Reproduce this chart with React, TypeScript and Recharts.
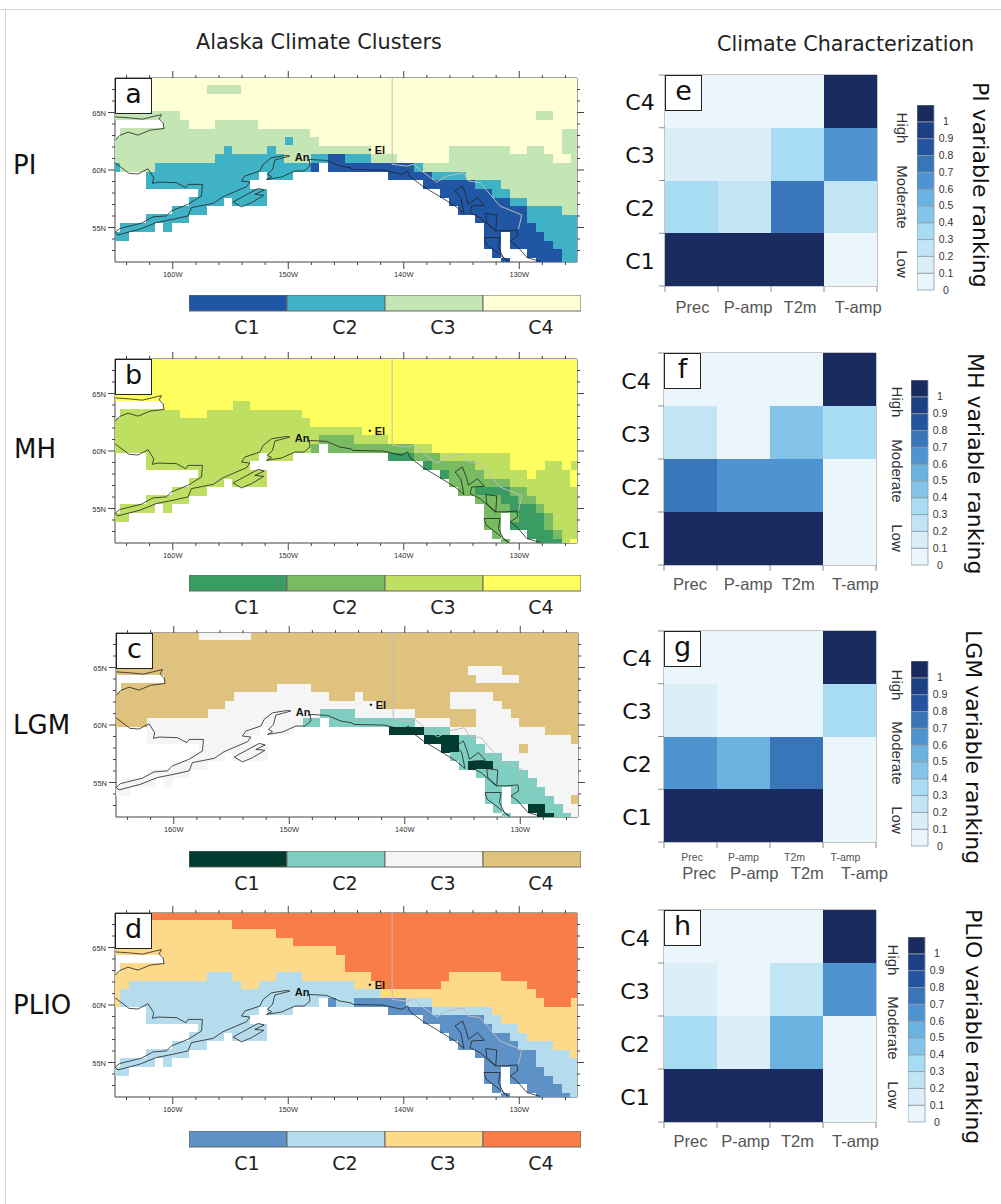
import {
  Bar,
  BarChart,
  Cell,
  ReferenceDot,
  Scatter,
  ScatterChart,
  XAxis,
  YAxis,
} from "recharts";

const SANS = "'DejaVu Sans', sans-serif";
const HELV = "'Liberation Sans', Arial, sans-serif";

// cluster grid, one string per model row, "code:firstCol-lastCol", later runs overwrite earlier ones
const PI_ROWS = [
  "4:0-53",
  "4:0-53 3:11-14",
  "4:0-53",
  "4:0-53",
  "4:0-53 3:0-7 3:49-50",
  "4:9-53 3:6-8 3:12-16",
  "3:1-22 4:23-51 3:52-53",
  "3:0-23 2:20 4:24-51 3:52-53",
  "3:0-29 2:13 2:18 4:30-38 3:39-45 4:46-47 3:48-49 4:50-51 3:52-53",
  "3:0-11 2:12-19 3:20-22 2:23-24 1:25-26 2:27-29 3:30-32 4:33-38 3:39-50 4:51-52 3:53",
  "2:0 3:1-4 2:5-22 1:23 1:25-34 2:35 3:36-53",
  "2:4-16 2:18-20 1:32-36 2:37-40 3:41-53",
  "2:4-15 1:36-41 2:42-44 3:45-53",
  "2:10-17 1:38-43 2:44-45 3:46-53",
  "2:9-12 2:14-17 1:39-45 2:46-47 3:48-53",
  "2:7-10 1:40-47 2:48-51 3:52-53",
  "2:4-8 1:42-47 2:48-53",
  "2:1-4 2:6 1:43-48 2:49-53",
  "2:0-1 1:43-44 1:46-49 2:50-53",
  "1:43-44 1:46-50 2:51-53",
  "1:44 1:48-51 2:52-53",
  "1:45 1:49-51 2:52-53",
];
const MH_ROWS = [
  "4:0-53",
  "4:0-53",
  "4:0-53",
  "4:0-53",
  "4:0-53",
  "4:6-53 3:14-15",
  "3:1-7 4:8-10 3:11-21 4:22-53",
  "3:0-22 4:23-53",
  "3:0-28 4:29-53",
  "3:0-23 2:24-27 3:28-31 4:32-53",
  "3:0-22 2:23 2:25-34 3:35-36 4:37-53",
  "3:4-16 3:18-20 1:32-34 2:35-37 3:38-45 4:46-53",
  "3:4-15 1:36 2:37-41 3:42-45 4:46-49 3:50-51 4:52 3:53",
  "3:10-17 1:38 2:39-42 3:43-47 4:48 3:49-52 4:53",
  "3:9-12 3:14-17 2:39-45 3:46-52 4:53",
  "3:7-10 2:40-41 1:42-45 2:46-47 3:48-53",
  "3:4-8 2:42-44 1:45-46 2:47-48 3:49-53",
  "3:1-4 3:6 2:43-45 1:46-48 2:49 3:50-53",
  "3:0-1 2:43-44 2:46 1:47-49 2:50 3:51-53",
  "2:43-44 1:46-49 2:50 3:51-53",
  "2:44 1:48-50 2:51 3:52-53",
  "2:45 1:49-51 3:52 4:53",
];
const LGM_ROWS = [
  "4:0-53 3:10-15",
  "4:0-53",
  "4:0-53",
  "4:0-53",
  "4:0-53 3:41-44",
  "4:6-53 3:42-46",
  "4:1-18 3:19-22 4:23-53",
  "4:0-13 3:14-24 4:25-53 3:28 3:39-43",
  "4:0-12 3:13-30 4:31-38 3:39-44 4:45-53",
  "4:0-10 3:11-23 2:24-27 3:28-34 4:35-41 3:42-45 4:46-53",
  "4:0-3 3:4-21 2:22-23 2:25-34 3:35-38 4:39-41 3:42-46 4:47-53",
  "3:4-16 3:18-20 1:32-35 2:36-38 3:39-49 4:50-53",
  "3:4-15 1:36-39 2:40-41 3:42-52 4:53",
  "3:10-17 1:38-39 2:40-42 3:43-53 4:47",
  "3:9-12 3:14-17 2:39-44 3:45-53",
  "3:7-10 2:40 1:41-43 2:44-46 3:47-53",
  "3:4-8 2:42-47 3:48-53",
  "3:1-4 3:6 2:43-48 3:49-53",
  "3:0-1 2:43-44 2:46-49 3:50-53",
  "2:43-44 2:46-50 3:51-52 4:53",
  "2:44 1:48-49 2:50-51 3:52-53",
  "2:45 1:49-50 2:51-52 3:53",
];
const PLIO_ROWS = [
  "4:0-53",
  "3:0-13 4:14-53",
  "3:0-18 4:19-53",
  "3:0-20 4:21-53",
  "3:0-25 4:26-53",
  "3:6-26 4:27-53",
  "3:1-26 4:27-53",
  "3:0-10 2:11-13 3:14-18 2:19-21 3:22-29 4:30-38 3:39-44 4:45-53",
  "3:0-1 2:2-14 3:15-16 2:17-27 3:28-30 4:31-37 3:38-47 4:48-53",
  "3:0 2:1-30 3:31-48 4:49-53",
  "3:0 2:1-23 1:25 2:26-27 1:28-33 2:34-36 3:37-49 4:50-52 3:53",
  "2:4-16 2:18-20 1:32-36 2:37-43 3:44-53",
  "2:4-15 1:36-42 2:43-44 3:45-53",
  "2:10-17 1:38-43 2:44-46 3:47-53",
  "2:9-12 2:14-17 1:39-45 2:46-47 3:48-53",
  "2:7-10 1:40-46 2:47-50 3:51-53",
  "2:4-8 1:42-48 2:49-52 3:53",
  "2:1-4 2:6 1:43-48 2:49-53",
  "2:0-1 1:43-44 1:46-49 2:50-53",
  "1:43-44 1:46-50 2:51-53",
  "1:44 1:48-51 2:52-53",
  "1:45 1:49-52 2:53",
];

const CLUSTERS = ["C1", "C2", "C3", "C4"];
const PI_COLORS = ["#2056a4", "#3fb3c5", "#c4e6b5", "#feffd4"];
const MH_COLORS = ["#3a9b63", "#79bb62", "#bedf62", "#fefe5e"];
const LGM_COLORS = ["#003c30", "#80cdc1", "#f5f5f5", "#dfc27d"];
const PLIO_COLORS = ["#5e92c6", "#b5dcec", "#fdd98a", "#f97d48"];

// coastlines and the border, [lon, lat]
const NORTH_COAST = [
  [-165, 64.62], [-163.73, 64.53], [-162.63, 64.42], [-160.98, 64.82], [-161.18, 64.45],
  [-160.84, 64.1], [-160.75, 63.61], [-161.99, 63.46], [-163.01, 63.03], [-163.87, 63.29],
  [-164.6, 63.0], [-165, 62.57],
];
const SOUTH_COAST = [
  [-165, 60.63], [-163.79, 59.71], [-163.01, 59.65], [-162.14, 60.11], [-161.65, 59.33],
  [-161.76, 58.84], [-161.27, 58.95], [-159.68, 58.9], [-158.87, 58.46], [-158.67, 58.75],
  [-157.43, 58.75], [-157.51, 57.74], [-158.67, 57.02], [-160.12, 56.44], [-160.55, 56.01],
  [-161.71, 55.92], [-162.72, 55.37], [-164.6, 54.91], [-165, 54.56], [-164.74, 54.36],
  [-162.86, 54.85], [-161.42, 55.43], [-159.97, 55.72], [-158.67, 56.01], [-158.38, 56.73],
  [-156.5, 57.1], [-155.64, 57.68], [-153.61, 58.55], [-153.32, 58.95], [-154.05, 59.04],
  [-153.76, 59.47], [-152.46, 59.91], [-152.17, 60.49], [-151.45, 61.06], [-150.14, 61.27],
  [-149.86, 61.21], [-150.43, 61.06], [-151.16, 60.86], [-151.36, 60.05], [-151.79, 59.62],
  [-151.45, 59.42], [-151.88, 59.18], [-150.58, 59.39], [-149.42, 59.91], [-148.64, 59.91],
  [-148.12, 60.34], [-148.18, 60.92], [-146.68, 60.83], [-145.52, 60.34], [-144.65, 60.2],
  [-144.37, 60.05], [-141.77, 59.99], [-140.18, 59.62], [-139.66, 59.91], [-139.46, 59.42],
  [-138.3, 58.55], [-136.86, 57.68], [-135.56, 56.87], [-134.78, 56.21], [-135.07, 57.6],
  [-135.56, 58.17], [-134.92, 58.61], [-134.61, 57.8], [-134.4, 57.02], [-133.62, 57.6],
  [-133.02, 56.93], [-134.11, 56.87], [-134.26, 56.29], [-133.39, 55.86], [-132.09, 54.71],
  [-131.22, 54.71], [-130.21, 54.79], [-130.13, 54.27], [-130.79, 53.84], [-130.21, 53.4],
  [-129.34, 52.39], [-128.19, 52.05],
];
const KODIAK = [
  [-154.77, 57.22], [-152.6, 58.4], [-152.08, 58.26], [-152.89, 57.88], [-152.11, 57.8],
  [-153.18, 57.16], [-154.05, 56.79], [-154.77, 57.22],
];
const ISLAND_ONE = [[-132.9, 56.21], [-131.95, 56.09], [-132.03, 54.71], [-132.81, 55.43], [-132.9, 56.21]];
const ISLAND_TWO = [
  [-133.04, 54.13], [-131.66, 54.13], [-131.8, 53.26], [-131.37, 52.39], [-130.93, 52.05],
  [-132.29, 53.12], [-132.87, 53.55], [-133.04, 54.13],
];
const BORDER = [
  [-141, 68], [-141, 60.49], [-139.75, 60.34], [-139.11, 60.49], [-138.45, 59.91], [-137.15, 58.95],
  [-136.28, 59.47], [-134.84, 59.76], [-134.4, 59.04], [-133.39, 58.9], [-131.66, 56.87],
  [-129.78, 56.09], [-130.07, 54.85],
];
const COASTS = [NORTH_COAST, SOUTH_COAST, KODIAK, ISLAND_ONE, ISLAND_TWO];

const LON_TICKS = [-164, -162, -160, -158, -156, -154, -152, -150, -148, -146, -144, -142, -140, -138, -136, -134, -132, -130, -128, -126];
const LAT_TICKS = [53, 54, 55, 56, 57, 58, 59, 60, 61, 62, 63, 64, 65, 66, 67];

// variable ranking per cluster, rows C1..C4, columns as VARIABLES
const VARIABLES = ["Prec", "P-amp", "T2m", "T-amp"];
const PI_RANK = [[1, 1, 1, 0.05], [0.35, 0.25, 0.75, 0.25], [0.15, 0.15, 0.35, 0.65], [0.05, 0.05, 0.05, 1]];
const MH_RANK = [[1, 1, 1, 0.05], [0.75, 0.65, 0.65, 0.05], [0.25, 0.05, 0.45, 0.35], [0.05, 0.05, 0.05, 1]];
const LGM_RANK = [[1, 1, 1, 0.05], [0.65, 0.55, 0.75, 0.05], [0.15, 0.05, 0.05, 0.35], [0.05, 0.05, 0.05, 1]];
const PLIO_RANK = [[1, 1, 1, 0.05], [0.35, 0.15, 0.55, 0.05], [0.15, 0.05, 0.25, 0.65], [0.05, 0.05, 0.05, 1]];

const RANK_COLORS = ["#eaf6fb", "#dbeef8", "#c1e5f5", "#a8dcf3", "#85c4ea", "#6ab2e0", "#4d94d0", "#3876b9", "#24549f", "#1d3f83", "#1a2b5f"];
const RANK_TICKS = [0, 0.1, 0.2, 0.3, 0.4, 0.5, 0.6, 0.7, 0.8, 0.9, 1];

const CELL_DEG = 0.75;
const FIRST_LON = -164.963; // column 0 is cut by the frame
const SECOND_LON = -164.213;
const TOP_LAT = 67.76;
const CELL_PX = 8.65;

function buildCells(rows: string[]) {
  const byCluster: { lon: number; lat: number }[][] = [[], [], [], []];
  rows.forEach((spec, r) => {
    const grid = new Array(54).fill(0);
    spec.split(" ").forEach((run) => {
      const [code, range] = run.split(":");
      const [from, to] = range.split("-").map(Number);
      for (let c = from; c <= (to ?? from); c++) grid[c] = Number(code);
    });
    grid.forEach((code, c) => {
      if (!code) return;
      const lon = c === 0 ? FIRST_LON : SECOND_LON + CELL_DEG * (c - 1);
      byCluster[code - 1].push({ lon, lat: TOP_LAT - CELL_DEG * r });
    });
  });
  return byCluster;
}

const points = (line: number[][]) => line.map(([lon, lat]) => ({ lon, lat }));
const noDot = () => <g />;

const mapCell = (fill: string) => (p: any) => (
  <rect
    x={p.cx - CELL_PX / 2}
    y={p.cy - CELL_PX / 2}
    width={CELL_PX + 0.3}
    height={CELL_PX + 0.3}
    fill={fill}
    shapeRendering="crispEdges"
  />
);

const lonTick = (side: string) => (p: any) => {
  const v = p.payload.value;
  const major = v % 10 === 0;
  const dir = side === "top" ? -1 : 1;
  return (
    <g>
      <line x1={p.x} x2={p.x} y1={p.y} y2={p.y + dir * (major ? 7 : 3)} stroke="#444" />
      {side === "bottom" && major && (
        <text x={p.x} y={p.y + 15} textAnchor="middle" fontSize={7.5} fontFamily={HELV} fill="#333">
          {-v}W
        </text>
      )}
    </g>
  );
};

const latTick = (side: string) => (p: any) => {
  const v = p.payload.value;
  const major = v % 5 === 0;
  const dir = side === "left" ? -1 : 1;
  return (
    <g>
      <line x1={p.x} x2={p.x + dir * (major ? 7 : 3)} y1={p.y} y2={p.y} stroke="#444" />
      {side === "left" && major && (
        <text x={p.x - 9} y={p.y + 3} textAnchor="end" fontSize={7.5} fontFamily={HELV} fill="#333">
          {v}N
        </text>
      )}
    </g>
  );
};

function ClimateMap({ rows, colors, left, top, letter }: any) {
  const cells = buildCells(rows);
  return (
    <div style={{ position: "absolute", left: left - 40, top: top - 12 }}>
      <ScatterChart width={514} height={218} margin={{ top: 0, right: 0, bottom: 0, left: 0 }}>
        <XAxis type="number" dataKey="lon" domain={[-165, -125]} ticks={LON_TICKS} interval={0} allowDataOverflow
          height={22} tickSize={0} tickMargin={0} tick={lonTick("bottom")} stroke="#444" />
        <XAxis type="number" xAxisId="top" orientation="top" dataKey="lon" domain={[-165, -125]} ticks={LON_TICKS} interval={0}
          allowDataOverflow height={12} tickSize={0} tickMargin={0} tick={lonTick("top")} stroke="#444" />
        <YAxis type="number" dataKey="lat" domain={[52, 68]} ticks={LAT_TICKS} interval={0} allowDataOverflow
          width={40} tickSize={0} tickMargin={0} tick={latTick("left")} stroke="#444" />
        <YAxis type="number" yAxisId="right" orientation="right" dataKey="lat" domain={[52, 68]} ticks={LAT_TICKS} interval={0}
          allowDataOverflow width={12} tickSize={0} tickMargin={0} tick={latTick("right")} stroke="#444" />
        {cells.map((data, i) => (
          <Scatter key={i} data={data} fill={colors[i]} shape={mapCell(colors[i])} isAnimationActive={false} />
        ))}
        <Scatter data={points(BORDER)} fill="#bbbbbb" line={{ stroke: "#bdbdbd", strokeWidth: 1 }} shape={noDot} isAnimationActive={false} />
        {COASTS.map((line, i) => (
          <Scatter key={i} data={points(line)} fill="#222" line={{ stroke: "#222", strokeWidth: 0.8 }} shape={noDot} isAnimationActive={false} />
        ))}
        <ReferenceDot x={-149.86} y={61.15} r={0} stroke="none" fill="none"
          label={{ value: "An", position: "right", offset: 5, fontSize: 11, fontWeight: 700, fill: "#111", fontFamily: HELV }} />
        <ReferenceDot x={-142.93} y={61.76} r={0.8} stroke="#111" fill="#111"
          label={{ value: "El", position: "right", offset: 4, fontSize: 11, fontWeight: 700, fill: "#111", fontFamily: HELV }} />
      </ScatterChart>
      <LetterBox letter={letter} left={40} top={12} />
    </div>
  );
}

function LetterBox({ letter, left, top }: any) {
  return (
    <div
      style={{
        position: "absolute",
        left,
        top,
        width: 35,
        height: 34,
        background: "#fff",
        border: "1px solid #222",
        fontFamily: SANS,
        fontSize: 27,
        lineHeight: "30px",
        textAlign: "center",
        color: "#111",
      }}
    >
      {letter}
    </div>
  );
}

function ClusterBar({ colors, top }: any) {
  const data = CLUSTERS.map((name) => ({ name, v: 1 }));
  return (
    <div style={{ position: "absolute", left: 189, top }}>
      <BarChart width={392} height={46} data={data} margin={{ top: 0, right: 0, bottom: 0, left: 0 }} barCategoryGap={0}>
        <XAxis dataKey="name" axisLine={false} tickLine={false} height={30} tickMargin={0} tickSize={0} interval={0}
          tick={(p: any) => (
            <text x={p.x + 9} y={p.y + 23} textAnchor="middle" fontSize={19} fontFamily={SANS} fill="#222">
              {p.payload.value}
            </text>
          )} />
        <YAxis hide domain={[0, 1]} />
        <Bar dataKey="v" stroke="#666" strokeWidth={1} isAnimationActive={false}>
          {colors.map((c: string, i: number) => (
            <Cell key={i} fill={c} />
          ))}
        </Bar>
      </BarChart>
    </div>
  );
}

function RankGrid({ rank, panel }: any) {
  const w = panel.right - panel.left;
  const h = panel.bottom - panel.top;
  const data = rank.flatMap((row: number[], r: number) =>
    row.map((v, c) => ({ x: c + 0.5, y: r + 0.5, fill: RANK_COLORS[Math.min(10, Math.floor(v * 10))] }))
  );
  const gridTicks = [0, 0.5, 1, 1.5, 2, 2.5, 3, 3.5, 4];
  const lineTicks = [0, 1, 2, 3, 4];
  const gray = "#8c8c8c";
  return (
    <div style={{ position: "absolute", left: panel.left - 50, top: panel.top - 8 }}>
      <ScatterChart width={w + 88} height={h + 48} margin={{ top: 0, right: 30, bottom: 0, left: 0 }}>
        <XAxis type="number" dataKey="x" domain={[0, 4]} ticks={gridTicks} interval={0} height={40} tickSize={0} tickMargin={0}
          stroke={gray}
          tick={(p: any) => {
            const v = p.payload.value;
            if (Number.isInteger(v)) return <line x1={p.x} x2={p.x} y1={p.y} y2={p.y + 6} stroke={gray} />;
            const i = Math.floor(v);
            return (
              <g>
                {panel.smallShift && (
                  <text x={p.x + panel.smallShift[i]} y={p.y + 19} textAnchor="middle" fontSize={10.5} fontFamily={HELV} fill="#555">
                    {VARIABLES[i]}
                  </text>
                )}
                <text x={p.x + panel.shift[i]} y={p.y + panel.labelY} textAnchor="middle" fontSize={16.5} fontFamily={HELV} fill="#555">
                  {VARIABLES[i]}
                </text>
              </g>
            );
          }} />
        <XAxis type="number" xAxisId="top" orientation="top" dataKey="x" domain={[0, 4]} ticks={lineTicks} interval={0} height={8}
          tickSize={0} tickMargin={0} stroke={gray}
          tick={(p: any) => <line x1={p.x} x2={p.x} y1={p.y} y2={p.y - 6} stroke={gray} />} />
        <YAxis type="number" dataKey="y" domain={[0, 4]} ticks={gridTicks} interval={0} width={50} tickSize={0} tickMargin={0}
          stroke={gray}
          tick={(p: any) => {
            const v = p.payload.value;
            if (Number.isInteger(v)) return <line x1={p.x} x2={p.x - 6} y1={p.y} y2={p.y} stroke={gray} />;
            return (
              <text x={p.x - panel.clusterDx} y={p.y + 9} textAnchor="middle" fontSize={22} fontFamily={SANS} fill="#111">
                {CLUSTERS[Math.floor(v)]}
              </text>
            );
          }} />
        <YAxis type="number" yAxisId="right" orientation="right" dataKey="y" domain={[0, 4]} ticks={lineTicks} interval={0} width={8}
          tickSize={0} tickMargin={0} stroke={gray}
          tick={(p: any) => <line x1={p.x} x2={p.x + 6} y1={p.y} y2={p.y} stroke={gray} />} />
        <Scatter data={data} isAnimationActive={false}
          shape={(p: any) => (
            <rect x={p.cx - w / 8} y={p.cy - h / 8} width={w / 4} height={h / 4} fill={p.payload.fill} shapeRendering="crispEdges" />
          )} />
      </ScatterChart>
      <LetterBox letter={panel.letter} left={50} top={8} />
    </div>
  );
}

function RankColorbar({ panel }: any) {
  const row: Record<string, number> = {};
  RANK_COLORS.forEach((_, i) => {
    row[`l${i}`] = 0.1;
  });
  return (
    <div style={{ position: "absolute", left: panel.barLeft, top: panel.barTop }}>
      <BarChart width={47} height={panel.barH + 10} data={[row]} margin={{ top: 0, right: 0, bottom: 10, left: 0 }} barCategoryGap={0}>
        <XAxis hide />
        <YAxis type="number" orientation="right" domain={[0, 1.1]} ticks={RANK_TICKS} interval={0} width={30} axisLine={false}
          tickLine={false} tickSize={0} tickMargin={0}
          tick={(p: any) => (
            <text x={p.x + 12} y={p.y + 3.5} textAnchor="middle" fontSize={10.5} fontFamily={HELV} fill="#333">
              {p.payload.value}
            </text>
          )} />
        {RANK_COLORS.map((c, i) => (
          <Bar key={i} dataKey={`l${i}`} stackId="a" fill={c} stroke="#8c9aa5" strokeWidth={0.8} isAnimationActive={false} />
        ))}
      </BarChart>
    </div>
  );
}

function Vertical({ text, x, y, size, color }: any) {
  // rotated clockwise; x is the centre line, y the starting edge
  return (
    <div
      style={{
        position: "absolute",
        left: x,
        top: y,
        transform: "translate(-50%, 0)",
        writingMode: "vertical-rl",
        whiteSpace: "nowrap",
        fontFamily: SANS,
        fontSize: size,
        lineHeight: 1,
        color,
      }}
    >
      {text}
    </div>
  );
}

const MAPS = [
  { rows: PI_ROWS, colors: PI_COLORS, left: 115, top: 78, letter: "a", barTop: 295, name: "PI", nameX: 13, nameY: 150 },
  { rows: MH_ROWS, colors: MH_COLORS, left: 115, top: 359, letter: "b", barTop: 575, name: "MH", nameX: 14, nameY: 434 },
  { rows: LGM_ROWS, colors: LGM_COLORS, left: 116, top: 633, letter: "c", barTop: 851, name: "LGM", nameX: 13, nameY: 710 },
  { rows: PLIO_ROWS, colors: PLIO_COLORS, left: 115, top: 913, letter: "d", barTop: 1131, name: "PLIO", nameX: 13, nameY: 990 },
];

const RANKS = [
  { rank: PI_RANK, letter: "e", left: 665, right: 877, top: 75, bottom: 286, shift: [1, 3.6, 2.6, 7.7], labelY: 27, clusterDx: 25,
    barLeft: 917, barTop: 105, barH: 185, title: "PI variable ranking", titleX: 980, titleY: 82, wordX: 902, wordDy: [53, 122, 189] },
  { rank: MH_RANK, letter: "f", left: 664, right: 876, top: 353, bottom: 565, shift: [-0.5, 4.6, 1.7, 5.8], labelY: 25, clusterDx: 28,
    barLeft: 911, barTop: 380, barH: 185, title: "MH variable ranking", titleX: 975, titleY: 353, wordX: 897, wordDy: [49, 118, 185] },
  { rank: LGM_RANK, letter: "g", left: 664, right: 876, top: 631, bottom: 842, shift: [8.6, 10.7, 10.8, 15], smallShift: [1.6, 0, -2, -4], labelY: 37, clusterDx: 27,
    barLeft: 911, barTop: 661, barH: 185, title: "LGM variable ranking", titleX: 973, titleY: 630, wordX: 897, wordDy: [54, 122, 189] },
  { rank: PLIO_RANK, letter: "h", left: 664, right: 876, top: 910, bottom: 1122, shift: [0, 2, 1, 6], labelY: 25, clusterDx: 29,
    barLeft: 908, barTop: 937, barH: 185, title: "PLIO variable ranking", titleX: 973, titleY: 909, wordX: 893, wordDy: [50, 118, 185] },
];

const WORDS = ["High", "Moderate", "Low"];

export default function App() {
  return (
    <div style={{ position: "absolute", left: 0, top: 0, width: 1001, height: 1204, background: "#fff", overflow: "hidden" }}>
      <div style={{ position: "absolute", left: 0, top: 9, width: 1001, height: 1, background: "#d4d4d4" }} />
      <div style={{ position: "absolute", left: 5, top: 9, width: 1, height: 1195, background: "#d4d4d4" }} />
      <div style={{ position: "absolute", left: 196, top: 30, fontFamily: SANS, fontSize: 20.8, color: "#222", whiteSpace: "nowrap" }}>
        Alaska Climate Clusters
      </div>
      <div style={{ position: "absolute", left: 717, top: 32, fontFamily: SANS, fontSize: 20.7, color: "#222", whiteSpace: "nowrap" }}>
        Climate Characterization
      </div>
      {MAPS.map((m) => (
        <div key={m.letter}>
          <ClimateMap rows={m.rows} colors={m.colors} left={m.left} top={m.top} letter={m.letter} />
          <ClusterBar colors={m.colors} top={m.barTop} />
          <div style={{ position: "absolute", left: m.nameX, top: m.nameY, fontFamily: SANS, fontSize: 26, color: "#111" }}>{m.name}</div>
        </div>
      ))}
      {RANKS.map((p) => (
        <div key={p.letter}>
          <RankGrid rank={p.rank} panel={p} />
          <RankColorbar panel={p} />
          <Vertical text={p.title} x={p.titleX} y={p.titleY} size={22} color="#111" />
          {WORDS.map((w, i) => (
            <div
              key={w}
              style={{
                position: "absolute",
                left: p.wordX,
                top: p.top + p.wordDy[i],
                transform: "translate(-50%, -50%)",
                writingMode: "vertical-rl",
                whiteSpace: "nowrap",
                fontFamily: HELV,
                fontSize: 15,
                lineHeight: 1,
                color: "#333",
              }}
            >
              {w}
            </div>
          ))}
        </div>
      ))}
    </div>
  );
}
